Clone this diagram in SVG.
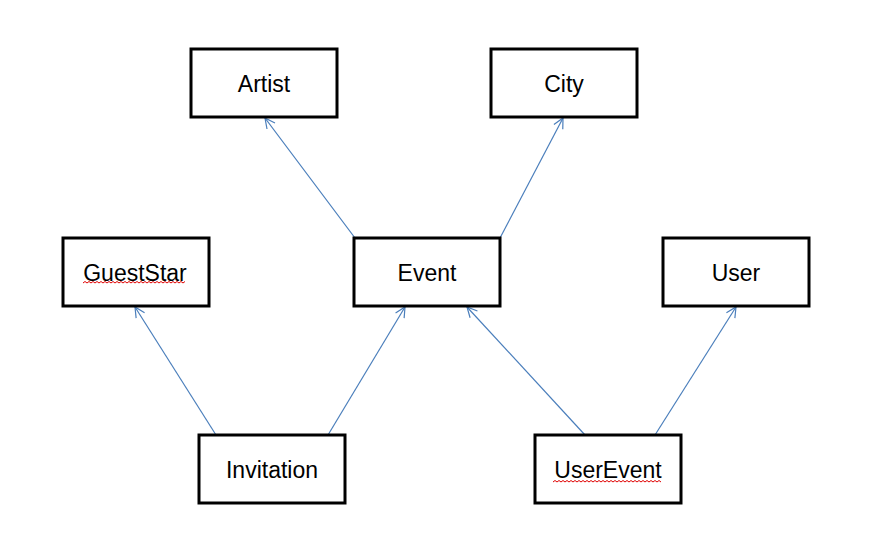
<svg xmlns="http://www.w3.org/2000/svg" width="888" height="547" viewBox="0 0 888 547">
<style>
.box{fill:#fff;stroke:#000;stroke-width:3}
.lbl{font-family:"Liberation Sans",Arial,sans-serif;font-size:23px;fill:#000;text-anchor:middle}
.con{stroke:#4A7EBB;stroke-width:1.2;fill:none;marker-end:url(#arr)}
.sq{stroke:#E00000;stroke-width:1;fill:none}
</style>
<defs>
<marker id="arr" viewBox="0 0 12 12" refX="11" refY="6" markerWidth="12" markerHeight="12" markerUnits="userSpaceOnUse" orient="auto">
<path d="M1,1 L11,6 L1,11" fill="none" stroke="#4A7EBB" stroke-width="1.2"/>
</marker>
</defs>
<rect width="888" height="547" fill="#fff"/>
<g id="connectors">
<line class="con" x1="355" y1="238" x2="265" y2="118"/>
<line class="con" x1="500" y1="238" x2="563" y2="118"/>
<line class="con" x1="216" y1="435" x2="135" y2="307"/>
<line class="con" x1="328" y1="435" x2="405" y2="307"/>
<line class="con" x1="585" y1="435" x2="467" y2="307"/>
<line class="con" x1="655" y1="435" x2="736" y2="307"/>
</g>
<g id="Artist"><rect class="box" x="191" y="49" width="146" height="68"/><text class="lbl" x="264" y="91.5">Artist</text></g>
<g id="City"><rect class="box" x="491" y="49" width="146" height="68"/><text class="lbl" x="564" y="91.5">City</text></g>
<g id="GuestStar"><rect class="box" x="63" y="238" width="146" height="68"/><text class="lbl" x="135" y="280.5">GuestStar</text>
<path class="sq" d="M83,283 l2,-1.5 l2,1.5 l2,-1.5 l2,1.5 l2,-1.5 l2,1.5 l2,-1.5 l2,1.5 l2,-1.5 l2,1.5 l2,-1.5 l2,1.5 l2,-1.5 l2,1.5 l2,-1.5 l2,1.5 l2,-1.5 l2,1.5 l2,-1.5 l2,1.5 l2,-1.5 l2,1.5 l2,-1.5 l2,1.5 l2,-1.5 l2,1.5 l2,-1.5 l2,1.5 l2,-1.5 l2,1.5 l2,-1.5 l2,1.5 l2,-1.5 l2,1.5 l2,-1.5 l2,1.5 l2,-1.5 l2,1.5 l2,-1.5 l2,1.5 l2,-1.5 l2,1.5 l2,-1.5 l2,1.5 l2,-1.5 l2,1.5 l2,-1.5 l2,1.5 l2,-1.5 l2,1.5 l2,-1.5"/></g>
<g id="Event"><rect class="box" x="354" y="238" width="146" height="68"/><text class="lbl" x="427" y="280.5">Event</text></g>
<g id="User"><rect class="box" x="663" y="238" width="146" height="68"/><text class="lbl" x="736" y="280.5">User</text></g>
<g id="Invitation"><rect class="box" x="199" y="435" width="146" height="68"/><text class="lbl" x="272" y="477.5">Invitation</text></g>
<g id="UserEvent"><rect class="box" x="535" y="435" width="146" height="68"/><text class="lbl" x="608" y="477.5">UserEvent</text>
<path class="sq" d="M553,482 l2,-1.5 l2,1.5 l2,-1.5 l2,1.5 l2,-1.5 l2,1.5 l2,-1.5 l2,1.5 l2,-1.5 l2,1.5 l2,-1.5 l2,1.5 l2,-1.5 l2,1.5 l2,-1.5 l2,1.5 l2,-1.5 l2,1.5 l2,-1.5 l2,1.5 l2,-1.5 l2,1.5 l2,-1.5 l2,1.5 l2,-1.5 l2,1.5 l2,-1.5 l2,1.5 l2,-1.5 l2,1.5 l2,-1.5 l2,1.5 l2,-1.5 l2,1.5 l2,-1.5 l2,1.5 l2,-1.5 l2,1.5 l2,-1.5 l2,1.5 l2,-1.5 l2,1.5 l2,-1.5 l2,1.5 l2,-1.5 l2,1.5 l2,-1.5 l2,1.5 l2,-1.5 l2,1.5 l2,-1.5 l2,1.5 l2,-1.5 l2,1.5"/></g>
</svg>
